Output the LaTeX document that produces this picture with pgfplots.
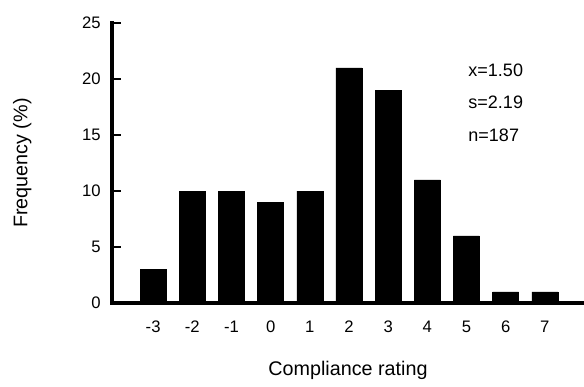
\documentclass[border=0pt]{standalone}
\usepackage{pgfplots}
\pgfplotsset{compat=1.18}
\usepackage{fontspec}
\setmainfont{Liberation Sans}
\begin{document}
\begin{tikzpicture}
\begin{axis}[
  scale only axis,
  width=354pt, height=210pt,
  xmin=-4.05, xmax=8.0,
  ymin=0, ymax=25,
  axis x line=bottom, axis y line=left,
  axis line style={-},
  ytick={0,5,10,15,20,25},
  xtick={-3,-2,-1,0,1,2,3,4,5,6,7},
  major tick length=0pt,
  /pgf/number format/assume math mode=true,
  tick label style={font=\fontsize{12.5}{14}\selectfont},
  xticklabel style={yshift=-10pt},
  yticklabel style={xshift=-5pt},
  ylabel={Frequency (\%)},
  xlabel={Compliance rating},
  label style={font=\fontsize{14.8}{17}\selectfont},
  ylabel style={at={(axis description cs:-0.19,0.5)}, anchor=center},
  xlabel style={at={(axis description cs:0.5,-0.24)}, anchor=center},
  ybar, bar width=19.5pt,
  clip=false,
]
\addplot[fill=black, draw=black, bar shift=0pt] coordinates {
  (-3,3) (-2,10) (-1,10) (0,9) (1,10) (2,21) (3,19) (4,11) (5,6) (6,1) (7,1)
};
\draw[line width=3pt, line cap=rect] (rel axis cs:0,1) -- (rel axis cs:0,0) -- (rel axis cs:1,0);
\pgfplotsinvokeforeach{5,10,15,20,25}{
  \draw[line width=2.2pt] (axis cs:-4.05,#1) -- ([xshift=7pt]axis cs:-4.05,#1);
}
\node[anchor=west, font=\fontsize{13.5}{15}\selectfont] at (axis cs:4.93,20.8) {x=1.50};
\node[anchor=west, font=\fontsize{13.5}{15}\selectfont] at (axis cs:4.93,17.9) {s=2.19};
\node[anchor=west, font=\fontsize{13.5}{15}\selectfont] at (axis cs:4.93,15.0) {n=187};
\end{axis}
\pgfresetboundingbox
\path[use as bounding box] (-84pt,-62.25pt) rectangle (354pt,227.25pt);
\end{tikzpicture}
\end{document}
